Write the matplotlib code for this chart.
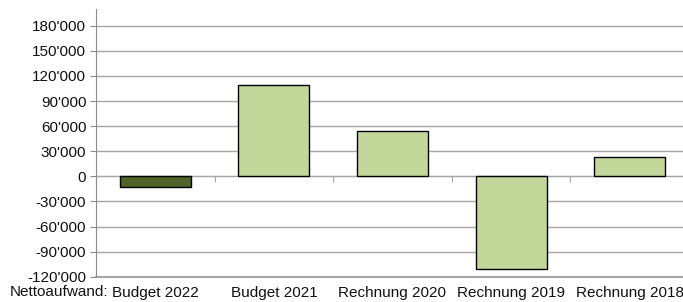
import matplotlib
matplotlib.use("Agg")
import matplotlib.pyplot as plt
import matplotlib.transforms as mtransforms
import numpy as np

categories = ["Budget 2022", "Budget 2021", "Rechnung 2020", "Rechnung 2019", "Rechnung 2018"]
values = [-12800, 109000, 54000, -110500, 22700]
colors = ["#4f6228", "#c4d79b", "#c4d79b", "#c4d79b", "#c4d79b"]
yticks = list(range(-120000, 180001, 30000))
row_label = "Nettoaufwand:"

plt.rcParams["font.family"] = ["Liberation Sans", "DejaVu Sans"]
fig = plt.figure(figsize=(6.83, 3.02), dpi=100)
ax = fig.add_axes([96 / 683, 25.3 / 302, 593 / 683, 267.7 / 302])

x = np.arange(len(categories))
ax.bar(x, values, width=0.6, color=colors, edgecolor="black", linewidth=1.0, zorder=3)

ax.set_xlim(-0.5, len(categories) - 0.5)
ax.set_ylim(-120000, 200000)
ax.set_yticks(yticks)
ax.set_yticklabels([f"{v:,}".replace(",", "'") for v in yticks], fontsize=11, color="#111111")
ax.tick_params(axis="y", length=4, color="#8c8c8c", pad=3)
ax.grid(axis="y", color="#a6a6a6", linewidth=1.0, zorder=0)

# category axis crosses at zero, with boundary ticks
for s in ("top", "right"):
    ax.spines[s].set_visible(False)
ax.spines["left"].set_color("#8c8c8c")
ax.spines["bottom"].set_position(("data", 0))
ax.spines["bottom"].set_color("#a6a6a6")
ax.spines["bottom"].set_zorder(2)
ax.set_xticks(np.arange(len(categories) + 1) - 0.5)
ax.set_xticklabels([])
ax.tick_params(axis="x", length=4, color="#a6a6a6", direction="out")
ax.axhline(-120000, color="#a6a6a6", linewidth=1.5, zorder=1, clip_on=False)

trans = mtransforms.blended_transform_factory(ax.transData, ax.transAxes)
for xi, lab in zip(x, categories):
    ax.text(xi, -0.076, lab, transform=trans, ha="center", va="baseline", fontsize=11, color="#111111")
ax.text(0.02, -0.072, row_label, transform=ax.transAxes, ha="right", va="baseline", fontsize=11, color="#111111")

fig.savefig("out.png", dpi=100)
